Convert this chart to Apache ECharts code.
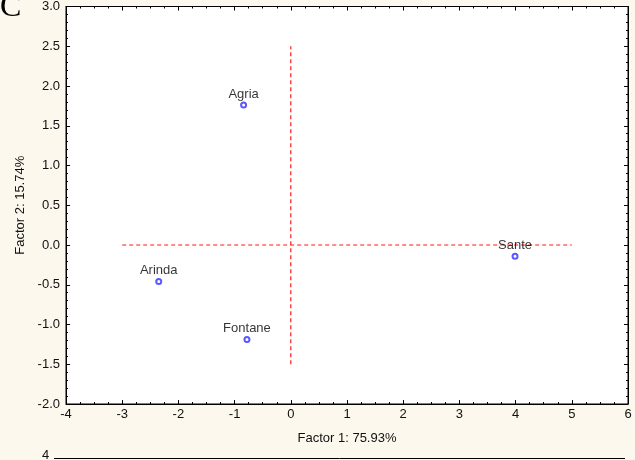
<!DOCTYPE html>
<html><head><meta charset="utf-8">
<script src="https://cdn.jsdelivr.net/npm/echarts@6/dist/echarts.min.js"></script>
<style>html,body{margin:0;padding:0;background:#fdf8ee;}#c{width:635px;height:460px;}</style>
</head><body><div id="c"></div>
<script>
const names = ['Agria', 'Arinda', 'Fontane', 'Sante'];
const factor1 = [-0.84, -2.35, -0.78, 3.99];
const factor2 = [1.76, -0.46, -1.19, -0.14];
const hLine = [[-3, 0], [5, 0]];
const vLine = [[0, -1.5], [0, 2.5]];
const xTitle = 'Factor 1: 75.93%';
const yTitle = 'Factor 2: 15.74%';

const chart = echarts.init(document.getElementById('c'));
const font = 'Liberation Sans, Arial, sans-serif';
const axisCommon = {
  axisLine: {show: true, onZero: false, lineStyle: {color: '#000', width: 1}},
  axisTick: {show: true, inside: true, length: 4, lineStyle: {color: '#000'}},
  minorTick: {show: true, splitNumber: 4, length: 2, lineStyle: {color: '#000'}},
  splitLine: {show: false}
};
chart.setOption({
  backgroundColor: '#fdf8ee',
  animation: false,
  grid: {left: 66, right: 7, top: 5, bottom: 56, show: true, backgroundColor: '#fff', borderColor: '#000', borderWidth: 1},
  xAxis: [
    Object.assign({}, axisCommon, {type: 'value', min: -4, max: 6, interval: 1, position: 'bottom',
      name: xTitle, nameLocation: 'middle', nameGap: 28,
      nameTextStyle: {fontFamily: font, fontSize: 13, color: '#111'},
      axisLabel: {fontFamily: font, fontSize: 13, color: '#111', margin: 4}}),
    Object.assign({}, axisCommon, {type: 'value', min: -4, max: 6, interval: 1, position: 'top', axisLabel: {show: false}})
  ],
  yAxis: [
    Object.assign({}, axisCommon, {type: 'value', min: -2, max: 3, interval: 0.5, position: 'left',
      minorTick: {show: true, splitNumber: 5, length: 2, lineStyle: {color: '#000'}},
      name: yTitle, nameLocation: 'middle', nameGap: 35,
      nameTextStyle: {fontFamily: font, fontSize: 13, color: '#111'},
      axisLabel: {fontFamily: font, fontSize: 13, color: '#111', margin: 6, formatter: v => v.toFixed(1)}}),
    Object.assign({}, axisCommon, {type: 'value', min: -2, max: 3, interval: 0.5, position: 'right',
      minorTick: {show: true, splitNumber: 5, length: 2, lineStyle: {color: '#000'}},
      axisLabel: {show: false}})
  ],
  series: [
    {type: 'line', data: hLine, symbol: 'none', lineStyle: {color: '#ff1a1a', type: [4, 3], width: 1.2}, silent: true},
    {type: 'line', data: vLine, symbol: 'none', lineStyle: {color: '#ff1a1a', type: [4, 3], width: 1.2}, silent: true},
    {type: 'scatter', symbol: 'emptyCircle', symbolSize: 5, z: 5,
      itemStyle: {color: '#3030ff', borderWidth: 1.3},
      data: names.map((n, i) => ({name: n, value: [factor1[i], factor2[i]]})),
      label: {show: true, position: 'top', distance: 1, formatter: p => p.name,
        fontFamily: font, fontSize: 13, color: '#000'}}
  ],
  graphic: [
    {type: 'text', left: 0, top: -8, style: {text: 'C', font: '32px "Liberation Serif", "Times New Roman", serif', fill: '#000'}},
    {type: 'text', left: 42, top: 449, style: {text: '4', font: '13px Liberation Sans, Arial', fill: '#111'}},
    {type: 'line', shape: {x1: 54, y1: 458.5, x2: 625, y2: 458.5}, style: {stroke: '#000', lineWidth: 1}}
  ]
});
</script></body></html>
